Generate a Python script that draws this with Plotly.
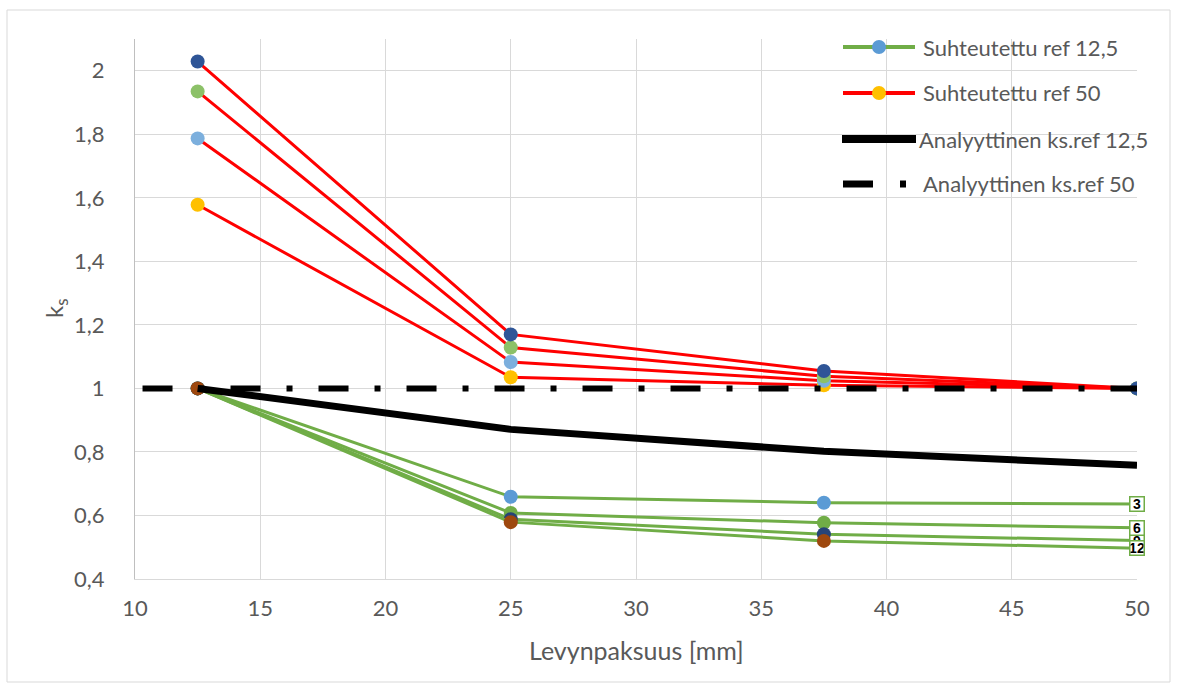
import plotly.graph_objects as go

# Plate thickness [mm]
thickness = [12.5, 25, 37.5, 50]

# Normalised k_s, reference thickness 12,5 mm (green lines), one list per series
rel125_labels = ["3", "6", "9", "12"]
rel125_n3 = [1.0, 0.659, 0.640, 0.636]
rel125_n6 = [1.0, 0.608, 0.577, 0.561]
rel125_n9 = [1.0, 0.588, 0.541, 0.521]
rel125_n12 = [1.0, 0.579, 0.520, 0.497]

# Normalised k_s, reference thickness 50 mm (red lines)
rel50_n3 = [1.578, 1.035, 1.010, 1.0]
rel50_n6 = [1.787, 1.083, 1.024, 1.0]
rel50_n9 = [1.935, 1.129, 1.038, 1.0]
rel50_n12 = [2.029, 1.170, 1.055, 1.0]

# Analytical k_s curves
analytic125 = [1.0, 0.871, 0.802, 0.758]
analytic50_x = [10.3, 12.5, 25, 37.5, 50]
analytic50 = [1.0, 1.0, 1.0, 1.0, 1.0]

legend_names = ["Suhteutettu ref 12,5", "Suhteutettu ref 50",
                "Analyyttinen ks.ref 12,5", "Analyyttinen ks.ref 50"]

GREEN = "#70AD47"
RED = "#FF0000"
TEXT = "#595959"
FONT = "Lato"
green_markers = ["#5B9BD5", "#70AD47", "#264478", "#9E480E"]
red_markers = ["#FFC000", "#7CAFDD", "#8CC168", "#2F5597"]

W, H = 1179, 691
L, R, T, B = 135, 1137, 39, 579  # plot area in pixels


def px(x):
    return (x - L) / (R - L)


def py(y):
    return (B - y) / (B - T)


fig = go.Figure()

for vals, mc in zip([rel125_n3, rel125_n6, rel125_n9, rel125_n12], green_markers):
    fig.add_trace(go.Scatter(x=thickness, y=vals, mode="lines+markers",
                             line=dict(color=GREEN, width=3),
                             marker=dict(color=mc, size=14, line=dict(width=0)),
                             showlegend=False, hoverinfo="skip"))

for vals, mc in zip([rel50_n3, rel50_n6, rel50_n9, rel50_n12], red_markers):
    fig.add_trace(go.Scatter(x=thickness, y=vals, mode="lines+markers",
                             line=dict(color=RED, width=3),
                             marker=dict(color=mc, size=14, line=dict(width=0)),
                             showlegend=False, hoverinfo="skip"))

fig.add_trace(go.Scatter(x=thickness, y=analytic125, mode="lines",
                         line=dict(color="black", width=7),
                         showlegend=False, hoverinfo="skip"))
fig.add_trace(go.Scatter(x=analytic50_x, y=analytic50, mode="lines",
                         line=dict(color="black", width=6, dash="30px,26px,6px,26px"),
                         showlegend=False, hoverinfo="skip"))

annotations = []
shapes = []

# end-of-line labels on the green series
label_order = [2, 0, 1, 3]
ends = [rel125_n3[-1], rel125_n6[-1], rel125_n9[-1], rel125_n12[-1]]
for i in label_order:
    annotations.append(dict(x=thickness[-1], y=ends[i], xref="x", yref="y",
                            text="<b>%s</b>" % rel125_labels[i], showarrow=False,
                            font=dict(family="Liberation Sans Narrow, Liberation Sans",
                                      size=14, color="black"),
                            bgcolor="white", bordercolor=GREEN, borderwidth=1.5,
                            borderpad=0, width=13, height=13,
                            xanchor="center", yanchor="middle"))

# legend drawn with shapes and text
leg_y = [47, 93, 139, 184]
for k, name in enumerate(legend_names):
    yy = py(leg_y[k])
    if k < 2:
        col = GREEN if k == 0 else RED
        mc = green_markers[0] if k == 0 else red_markers[0]
        shapes.append(dict(type="line", xref="paper", yref="paper",
                           x0=px(843), x1=px(915), y0=yy, y1=yy,
                           line=dict(color=col, width=4)))
        shapes.append(dict(type="circle", xref="paper", yref="paper",
                           xsizemode="pixel", ysizemode="pixel",
                           xanchor=px(879), yanchor=yy, x0=-7, x1=7, y0=-7, y1=7,
                           fillcolor=mc, line=dict(width=0)))
        tx = 921
    elif k == 2:
        shapes.append(dict(type="line", xref="paper", yref="paper",
                           x0=px(842), x1=px(916), y0=yy, y1=yy,
                           line=dict(color="black", width=8)))
        tx = 917
    else:
        shapes.append(dict(type="line", xref="paper", yref="paper",
                           x0=px(843), x1=px(909), y0=yy, y1=yy,
                           line=dict(color="black", width=7, dash="30px,27px,6px,27px")))
        tx = 921
    annotations.append(dict(x=px(tx), y=yy, xref="paper", yref="paper",
                            text=name, showarrow=False, xanchor="left",
                            yanchor="middle",
                            font=dict(family=FONT, size=22, color=TEXT)))

# axis titles
annotations.append(dict(x=px(636), y=py(650), xref="paper", yref="paper",
                        text="Levynpaksuus [mm]", showarrow=False,
                        xanchor="center", yanchor="middle",
                        font=dict(family=FONT, size=25, color=TEXT)))
annotations.append(dict(x=px(55), y=py(309), xref="paper", yref="paper",
                        text="k<sub>s</sub>", showarrow=False, textangle=-90,
                        xanchor="center", yanchor="middle",
                        font=dict(family=FONT, size=24, color=TEXT)))

# outer chart border
shapes.append(dict(type="rect", xref="paper", yref="paper",
                   x0=px(7), x1=px(1170), y0=py(682), y1=py(10),
                   line=dict(color="#D9D9D9", width=1), layer="below"))

fig.update_layout(
    width=W, height=H,
    margin=dict(l=L, r=W - R, t=T, b=H - B, pad=0),
    paper_bgcolor="white", plot_bgcolor="white",
    separators=", ",
    showlegend=False,
    annotations=annotations, shapes=shapes,
    font=dict(family=FONT, size=22, color=TEXT),
)
fig.update_xaxes(range=[10, 50], tick0=10, dtick=5, showgrid=True,
                 gridcolor="#D9D9D9", gridwidth=1, zeroline=False,
                 showline=True, linecolor="#D9D9D9", linewidth=1,
                 ticks="", ticklabelstandoff=10,
                 tickfont=dict(family=FONT, size=22, color=TEXT))
fig.update_yaxes(range=[0.4, 2.1], tick0=0.4, dtick=0.2, showgrid=True,
                 gridcolor="#D9D9D9", gridwidth=1, zeroline=False,
                 showline=True, linecolor="#BFBFBF", linewidth=1,
                 ticks="", ticklabelstandoff=25,
                 tickfont=dict(family=FONT, size=22, color=TEXT))

fig.write_html("out.html")
